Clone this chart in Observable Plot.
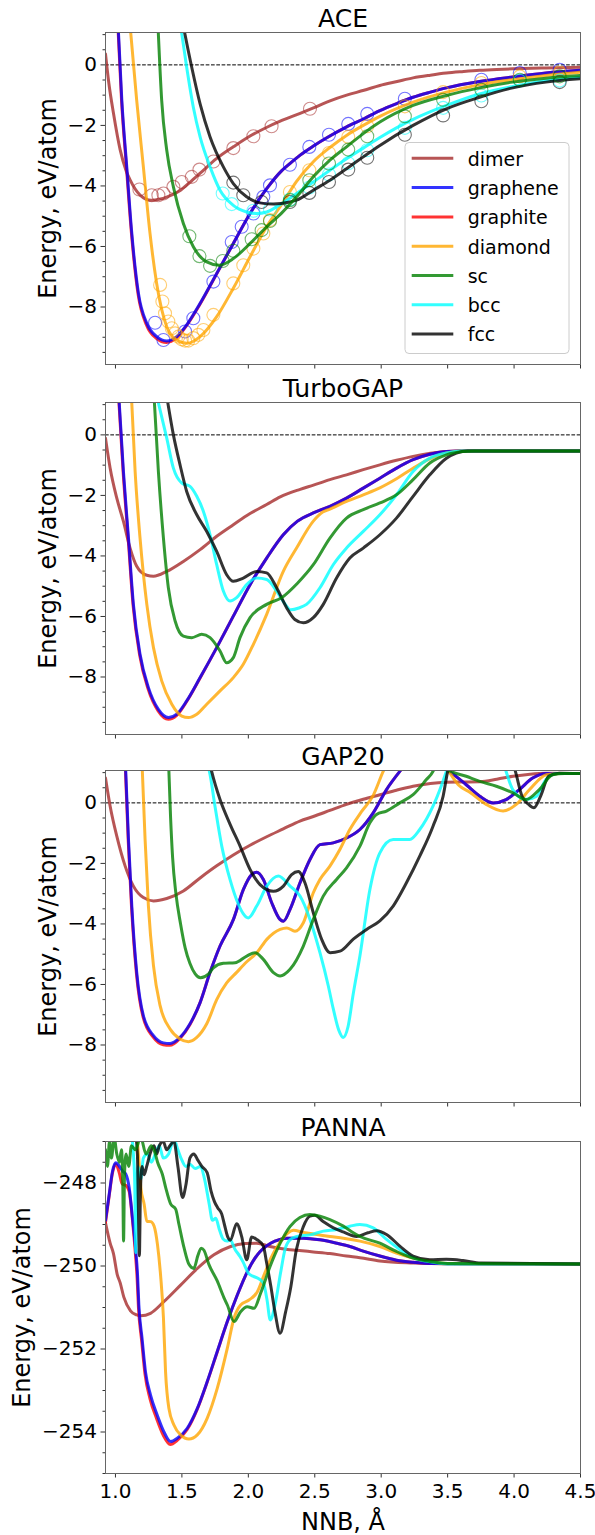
<!DOCTYPE html>
<html>
<head>
<meta charset="utf-8">
<script src="https://cdn.jsdelivr.net/npm/d3@7"></script>
<script src="https://cdn.jsdelivr.net/npm/@observablehq/plot@0.6"></script>
<style>
  body { margin: 0; background: #fff; }
  #fig { position: relative; width: 595px; height: 1535px; font-family: "DejaVu Sans", sans-serif; }
  #fig svg { position: absolute; left: 0; }
</style>
</head>
<body>
<div id="fig"></div>
<script>
// ---- structures, colours, ticks ----
const structures = ["dimer", "graphene", "graphite", "diamond", "sc", "bcc", "fcc"];
const structureColors = ["brown", "blue", "red", "orange", "green", "cyan", "black"];
const drawOrder = ["dimer", "graphite", "graphene", "diamond", "bcc", "fcc", "sc"];
const xTicks = [1.0, 1.5, 2.0, 2.5, 3.0, 3.5, 4.0, 4.5];
const energyTicks = [0, -2, -4, -6, -8];
const energyMinorTicks = [1, 0.5, -0.5, -1, -1.5, -2.5, -3, -3.5, -4.5, -5, -5.5, -6.5, -7, -7.5, -8.5, -9, -9.5];
const pannaTicks = [-248, -250, -252, -254];
const pannaMinorTicks = [-247, -247.5, -248.5, -249, -249.5, -250.5, -251, -251.5, -252.5, -253, -253.5, -254.5, -255];

// ---- ACE: [NNB (Å), energy (eV/atom)] ----
const aceDimer = [[0.925,0.36],[0.95,-0.6],[0.985,-1.6],[1.035,-2.8],[1.08,-3.5],[1.11,-3.8],[1.185,-4.3],[1.27,-4.47],[1.33,-4.44],[1.39,-4.36],[1.49,-4.14],[1.56,-3.88],[1.64,-3.57],[1.76,-3.1],[1.89,-2.7],[2.01,-2.36],[2.14,-2.06],[2.24,-1.86],[2.39,-1.6],[2.49,-1.42],[2.62,-1.18],[2.74,-1.0],[2.87,-0.84],[2.99,-0.68],[3.12,-0.55],[3.24,-0.43],[3.37,-0.34],[3.49,-0.27],[3.62,-0.22],[3.74,-0.18],[3.87,-0.15],[3.99,-0.13],[4.24,-0.1],[4.5,-0.08]];
const aceGraphene = [[1.02,1.3],[1.048,-1.18],[1.085,-3.37],[1.123,-5.57],[1.173,-7.55],[1.236,-8.54],[1.311,-8.98],[1.386,-9.12],[1.461,-8.98],[1.536,-8.59],[1.637,-7.88],[1.762,-6.89],[1.887,-5.9],[2.013,-4.91],[2.138,-4.09],[2.25,-3.5],[2.31,-3.27],[2.39,-2.98],[2.49,-2.68],[2.61,-2.36],[2.74,-2.05],[2.87,-1.78],[2.99,-1.51],[3.12,-1.27],[3.24,-1.07],[3.37,-0.9],[3.49,-0.76],[3.74,-0.55],[3.99,-0.4],[4.24,-0.27],[4.5,-0.18]];
const aceGraphite = [[1.018,1.3],[1.046,-1.2],[1.083,-3.4],[1.121,-5.6],[1.171,-7.6],[1.234,-8.6],[1.309,-9.04],[1.384,-9.17],[1.459,-9.02],[1.534,-8.62],[1.637,-7.9],[1.762,-6.9],[1.887,-5.9],[2.013,-4.91],[2.138,-4.09],[2.25,-3.5],[2.31,-3.27],[2.39,-2.98],[2.49,-2.68],[2.61,-2.36],[2.74,-2.05],[2.87,-1.78],[2.99,-1.51],[3.12,-1.27],[3.24,-1.07],[3.37,-0.9],[3.49,-0.76],[3.74,-0.55],[3.99,-0.4],[4.24,-0.27],[4.5,-0.18]];
const aceDiamond = [[1.11,1.3],[1.16,-1.18],[1.21,-3.37],[1.26,-5.57],[1.31,-7.22],[1.386,-8.65],[1.46,-9.09],[1.54,-9.2],[1.637,-8.98],[1.762,-8.32],[1.887,-7.38],[2.013,-6.34],[2.138,-5.35],[2.263,-4.53],[2.363,-3.85],[2.489,-3.2],[2.614,-2.73],[2.739,-2.33],[2.865,-2.0],[2.99,-1.7],[3.24,-1.23],[3.49,-0.9],[3.74,-0.66],[3.99,-0.49],[4.24,-0.35],[4.5,-0.24]];
const aceSc = [[1.32,1.3],[1.348,-1.18],[1.386,-2.82],[1.436,-4.03],[1.511,-5.24],[1.586,-6.01],[1.687,-6.51],[1.78,-6.62],[1.887,-6.4],[2.013,-5.9],[2.138,-5.35],[2.25,-4.9],[2.363,-4.36],[2.489,-3.7],[2.614,-3.15],[2.739,-2.71],[2.865,-2.27],[2.99,-1.89],[3.24,-1.34],[3.49,-1.01],[3.74,-0.76],[3.99,-0.57],[4.24,-0.44],[4.5,-0.35]];
const aceBcc = [[1.49,1.3],[1.536,-0.08],[1.586,-1.4],[1.637,-2.38],[1.712,-3.37],[1.787,-4.14],[1.887,-4.64],[1.987,-4.86],[2.063,-4.91],[2.138,-4.86],[2.238,-4.62],[2.363,-4.25],[2.489,-3.87],[2.614,-3.48],[2.739,-3.1],[2.865,-2.75],[2.99,-2.4],[3.115,-2.08],[3.24,-1.8],[3.49,-1.34],[3.74,-0.96],[3.99,-0.71],[4.24,-0.52],[4.5,-0.41]];
const aceFcc = [[1.51,1.3],[1.574,-0.08],[1.637,-1.29],[1.712,-2.38],[1.812,-3.37],[1.887,-3.92],[1.987,-4.36],[2.088,-4.56],[2.188,-4.6],[2.313,-4.53],[2.363,-4.47],[2.489,-4.14],[2.614,-3.81],[2.739,-3.43],[2.865,-3.04],[2.99,-2.66],[3.24,-2.0],[3.49,-1.45],[3.74,-1.07],[3.99,-0.76],[4.24,-0.57],[4.5,-0.46]];

// ---- DFT reference points drawn as open circles in the ACE panel ----
const dftDimer = [[1.18,-4.12],[1.273,-4.31],[1.323,-4.31],[1.361,-4.25],[1.436,-4.03],[1.499,-3.87],[1.574,-3.7],[1.632,-3.46],[1.737,-3.19],[1.887,-2.75],[2.038,-2.36],[2.175,-2.03],[2.464,-1.45]];
const dftGraphene = [[1.298,-8.52],[1.361,-9.09],[1.524,-8.81],[1.586,-8.37],[1.737,-7.16],[1.875,-5.85],[1.95,-5.35],[2.038,-4.91],[2.113,-4.36],[2.163,-3.98],[2.313,-3.3],[2.459,-2.71],[2.607,-2.31],[2.752,-1.95],[2.895,-1.62],[3.178,-1.12],[3.754,-0.49],[4.043,-0.27],[4.343,-0.16]];
const dftDiamond = [[1.336,-7.27],[1.353,-7.82],[1.373,-8.21],[1.398,-8.48],[1.424,-8.7],[1.449,-8.87],[1.474,-8.98],[1.499,-9.07],[1.524,-9.11],[1.549,-9.11],[1.586,-9.03],[1.624,-8.92],[1.662,-8.76],[1.737,-8.26],[1.887,-7.22],[1.962,-6.62],[2.038,-6.07],[2.113,-5.57],[2.163,-5.13],[2.313,-4.2],[2.459,-3.48],[2.607,-2.91],[2.752,-2.38],[2.895,-2.03],[3.178,-1.37],[3.466,-0.9],[3.754,-0.6],[4.043,-0.38],[4.343,-0.27]];
const dftSc = [[1.556,-5.66],[1.632,-6.32],[1.712,-6.64],[1.807,-6.48],[1.887,-6.14],[2.025,-5.76],[2.1,-5.46],[2.163,-5.16],[2.313,-4.47],[2.459,-3.81],[2.607,-3.26],[2.752,-2.8],[2.895,-2.36],[3.178,-1.7],[3.466,-1.15],[3.754,-0.82],[4.043,-0.49],[4.343,-0.38]];
const dftBcc = [[1.807,-4.25],[1.875,-4.6],[2.038,-4.82],[2.163,-4.78],[2.313,-4.45],[2.459,-4.05],[2.607,-3.62],[2.752,-3.25],[2.895,-2.82],[3.178,-2.08],[3.466,-1.42],[3.754,-1.01],[4.043,-0.52],[4.343,-0.52]];
const dftFcc = [[1.887,-3.89],[1.962,-4.31],[2.1,-4.53],[2.313,-4.53],[2.459,-4.23],[2.607,-3.87],[2.752,-3.46],[2.895,-3.07],[3.178,-2.31],[3.466,-1.67],[3.754,-1.2],[4.343,-0.57]];

// ---- TurboGAP ----
const tgDimer = [[0.925,-0.11],[0.96,-1.1],[1.01,-2.09],[1.06,-2.86],[1.11,-3.74],[1.16,-4.34],[1.236,-4.64],[1.286,-4.67],[1.386,-4.51],[1.511,-4.18],[1.637,-3.79],[1.762,-3.35],[1.887,-2.97],[2.013,-2.6],[2.138,-2.3],[2.24,-2.05],[2.39,-1.8],[2.49,-1.66],[2.614,-1.48],[2.739,-1.32],[2.865,-1.15],[2.99,-0.99],[3.115,-0.84],[3.24,-0.71],[3.37,-0.61],[3.49,-0.55],[3.6,-0.53],[4.5,-0.53]];
const tgGraphene = [[1.025,1.3],[1.06,-1.21],[1.098,-3.41],[1.135,-5.6],[1.185,-7.25],[1.248,-8.35],[1.323,-9.07],[1.4,-9.34],[1.461,-9.23],[1.536,-8.79],[1.637,-8.02],[1.762,-7.03],[1.887,-5.99],[2.013,-4.95],[2.138,-4.07],[2.263,-3.3],[2.37,-2.85],[2.489,-2.58],[2.614,-2.36],[2.739,-2.09],[2.865,-1.76],[2.99,-1.43],[3.115,-1.1],[3.24,-0.82],[3.366,-0.64],[3.491,-0.55],[3.6,-0.53],[4.5,-0.53]];
const tgGraphite = [[1.023,1.3],[1.058,-1.25],[1.096,-3.45],[1.133,-5.65],[1.183,-7.3],[1.246,-8.4],[1.321,-9.12],[1.398,-9.4],[1.461,-9.27],[1.536,-8.81],[1.637,-8.03],[1.762,-7.03],[1.887,-5.99],[2.013,-4.95],[2.138,-4.07],[2.263,-3.3],[2.37,-2.85],[2.489,-2.58],[2.614,-2.36],[2.739,-2.09],[2.865,-1.76],[2.99,-1.43],[3.115,-1.1],[3.24,-0.82],[3.366,-0.64],[3.491,-0.55],[3.6,-0.53],[4.5,-0.53]];
const tgDiamond = [[1.12,1.3],[1.148,-1.21],[1.185,-3.41],[1.236,-5.6],[1.286,-7.03],[1.348,-8.13],[1.424,-8.9],[1.499,-9.29],[1.549,-9.34],[1.612,-9.23],[1.687,-8.9],[1.787,-8.46],[1.887,-8.02],[1.962,-7.58],[2.038,-6.92],[2.138,-5.93],[2.263,-4.51],[2.363,-3.74],[2.489,-2.85],[2.56,-2.55],[2.614,-2.45],[2.739,-2.2],[2.865,-1.98],[2.99,-1.75],[3.115,-1.45],[3.24,-1.1],[3.366,-0.79],[3.491,-0.6],[3.6,-0.53],[4.5,-0.53]];
const tgSc = [[1.29,1.3],[1.323,-1.21],[1.361,-3.41],[1.398,-5.05],[1.449,-6.15],[1.511,-6.65],[1.574,-6.7],[1.649,-6.59],[1.712,-6.7],[1.787,-7.14],[1.837,-7.53],[1.887,-7.36],[1.937,-6.7],[2.013,-6.04],[2.138,-5.6],[2.25,-5.38],[2.37,-4.9],[2.489,-4.29],[2.614,-3.41],[2.739,-2.75],[2.865,-2.47],[2.99,-2.25],[3.115,-1.98],[3.24,-1.48],[3.366,-0.93],[3.491,-0.66],[3.616,-0.55],[3.7,-0.53],[4.5,-0.53]];
const tgBcc = [[1.31,1.3],[1.386,-0.11],[1.436,-1.1],[1.499,-1.59],[1.561,-1.7],[1.612,-2.03],[1.662,-2.53],[1.712,-3.3],[1.762,-4.29],[1.812,-5.16],[1.862,-5.49],[1.912,-5.38],[1.987,-4.95],[2.063,-4.73],[2.138,-4.78],[2.213,-5.16],[2.27,-5.55],[2.32,-5.78],[2.38,-5.72],[2.438,-5.6],[2.539,-5.05],[2.639,-4.29],[2.739,-3.74],[2.865,-3.19],[2.99,-2.64],[3.115,-1.98],[3.24,-1.21],[3.366,-0.77],[3.491,-0.6],[3.6,-0.53],[4.5,-0.53]];
const tgFcc = [[1.385,1.3],[1.436,0.0],[1.486,-0.99],[1.536,-1.87],[1.612,-2.64],[1.687,-3.19],[1.762,-3.85],[1.837,-4.62],[1.887,-4.84],[1.962,-4.73],[2.063,-4.51],[2.138,-4.56],[2.213,-5.05],[2.288,-5.71],[2.35,-6.1],[2.414,-6.21],[2.489,-6.04],[2.564,-5.6],[2.664,-4.73],[2.764,-4.07],[2.865,-3.74],[2.99,-3.3],[3.115,-2.75],[3.24,-2.03],[3.366,-1.32],[3.491,-0.77],[3.566,-0.6],[3.65,-0.53],[4.5,-0.53]];

// ---- GAP20 ----
const g20Dimer = [[0.925,0.82],[0.96,-0.11],[1.01,-1.1],[1.073,-2.09],[1.135,-2.75],[1.21,-3.13],[1.286,-3.24],[1.386,-3.16],[1.511,-2.91],[1.637,-2.48],[1.762,-2.08],[1.887,-1.72],[2.013,-1.4],[2.138,-1.12],[2.263,-0.86],[2.388,-0.6],[2.489,-0.45],[2.614,-0.25],[2.739,-0.05],[2.865,0.12],[2.99,0.27],[3.115,0.42],[3.24,0.55],[3.37,0.64],[3.491,0.68],[3.616,0.69],[3.742,0.7],[3.87,0.78],[3.992,0.88],[4.12,0.95],[4.243,0.98],[4.5,0.97]];
const g20Graphene = [[1.075,1.3],[1.098,-1.21],[1.123,-3.41],[1.16,-5.6],[1.21,-7.03],[1.286,-7.69],[1.361,-7.93],[1.411,-7.95],[1.486,-7.75],[1.561,-7.3],[1.637,-6.6],[1.712,-5.6],[1.787,-4.73],[1.888,-3.85],[1.963,-2.86],[2.025,-2.37],[2.063,-2.29],[2.113,-2.53],[2.176,-3.3],[2.238,-3.85],[2.264,-3.91],[2.314,-3.52],[2.389,-2.64],[2.464,-1.87],[2.539,-1.38],[2.639,-1.32],[2.739,-1.16],[2.84,-0.88],[2.94,-0.33],[3.04,0.44],[3.14,1.04],[3.25,1.6],[3.42,1.6],[3.5,1.1],[3.57,0.85],[3.64,0.6],[3.742,0.22],[3.842,0.0],[3.94,0.11],[4.04,0.44],[4.14,0.82],[4.243,0.97],[4.5,0.97]];
const g20Graphite = [[1.073,1.3],[1.096,-1.25],[1.121,-3.45],[1.158,-5.65],[1.208,-7.08],[1.284,-7.74],[1.359,-7.99],[1.409,-8.01],[1.484,-7.79],[1.561,-7.32],[1.637,-6.6],[1.712,-5.6],[1.787,-4.73],[1.888,-3.85],[1.963,-2.86],[2.025,-2.37],[2.063,-2.29],[2.113,-2.53],[2.176,-3.3],[2.238,-3.85],[2.264,-3.91],[2.314,-3.52],[2.389,-2.64],[2.464,-1.87],[2.539,-1.38],[2.639,-1.32],[2.739,-1.16],[2.84,-0.88],[2.94,-0.33],[3.04,0.44],[3.14,1.04],[3.25,1.6],[3.42,1.6],[3.5,1.1],[3.57,0.85],[3.64,0.6],[3.742,0.22],[3.842,0.0],[3.94,0.11],[4.04,0.44],[4.14,0.82],[4.243,0.97],[4.5,0.97]];
const g20Diamond = [[1.2,1.3],[1.223,-1.21],[1.248,-3.41],[1.286,-5.38],[1.336,-6.7],[1.411,-7.47],[1.486,-7.8],[1.549,-7.89],[1.612,-7.75],[1.687,-7.3],[1.762,-6.5],[1.837,-5.95],[1.912,-5.6],[1.988,-5.25],[2.064,-4.95],[2.139,-4.51],[2.239,-4.18],[2.289,-4.13],[2.351,-4.24],[2.414,-3.96],[2.489,-2.97],[2.539,-2.53],[2.614,-2.09],[2.689,-1.54],[2.764,-0.88],[2.85,-0.3],[2.94,0.25],[3.015,1.04],[3.08,1.6],[3.42,1.6],[3.5,1.1],[3.58,0.6],[3.667,0.35],[3.79,-0.05],[3.917,-0.27],[4.017,-0.05],[4.117,0.44],[4.243,0.93],[4.35,0.97],[4.5,0.97]];
const g20Sc = [[1.4,1.3],[1.415,-0.5],[1.43,-1.8],[1.455,-3.0],[1.49,-4.0],[1.525,-4.8],[1.56,-5.3],[1.6,-5.65],[1.64,-5.78],[1.699,-5.66],[1.737,-5.45],[1.812,-5.3],[1.9,-5.28],[1.988,-5.06],[2.05,-4.95],[2.113,-5.17],[2.189,-5.61],[2.239,-5.72],[2.314,-5.5],[2.414,-4.73],[2.489,-3.85],[2.564,-3.08],[2.664,-2.53],[2.739,-2.15],[2.84,-1.43],[2.915,-0.66],[2.965,-0.38],[3.04,-0.27],[3.14,0.0],[3.24,0.27],[3.34,0.77],[3.39,1.04],[3.43,1.5],[3.47,1.4],[3.5,1.1],[3.64,0.88],[3.742,0.71],[3.867,0.55],[3.992,0.33],[4.09,0.11],[4.19,0.44],[4.29,0.93],[4.38,0.97],[4.5,0.97]];
const g20Bcc = [[1.69,1.3],[1.707,1.04],[1.749,-0.11],[1.8,-1.43],[1.862,-2.53],[1.925,-3.35],[1.96,-3.65],[2.0,-3.8],[2.063,-3.41],[2.139,-2.75],[2.226,-2.42],[2.314,-2.75],[2.389,-3.08],[2.464,-3.85],[2.539,-4.95],[2.602,-6.05],[2.639,-6.8],[2.68,-7.5],[2.714,-7.75],[2.75,-7.4],[2.79,-6.3],[2.84,-5.05],[2.915,-2.86],[2.99,-1.65],[3.09,-1.21],[3.215,-1.21],[3.29,-0.88],[3.39,-0.11],[3.49,1.04],[3.53,1.6],[3.9,1.6],[3.94,1.04],[3.99,0.44],[4.09,0.11],[4.17,0.22],[4.24,0.77],[4.32,0.97],[4.5,0.97]];
const g20Fcc = [[1.71,1.3],[1.724,1.04],[1.787,0.11],[1.862,-0.7],[1.938,-1.43],[2.013,-2.2],[2.088,-2.7],[2.189,-2.92],[2.264,-2.75],[2.326,-2.37],[2.376,-2.27],[2.426,-2.64],[2.489,-3.63],[2.552,-4.51],[2.615,-4.95],[2.69,-4.9],[2.79,-4.5],[2.89,-4.18],[2.99,-3.9],[3.09,-3.41],[3.19,-2.64],[3.29,-1.76],[3.39,-0.77],[3.466,0.22],[3.5,1.04],[3.53,1.6],[3.97,1.6],[4.01,1.04],[4.06,0.22],[4.11,-0.05],[4.15,-0.16],[4.2,0.22],[4.26,0.88],[4.34,0.98],[4.5,0.97]];

// ---- PANNA ----
const pnDimer = [[0.925,-248.96],[0.96,-249.45],[0.985,-249.7],[1.013,-250.2],[1.035,-250.4],[1.063,-250.75],[1.113,-251.08],[1.16,-251.18],[1.19,-251.2],[1.264,-251.14],[1.364,-250.86],[1.49,-250.46],[1.616,-250.06],[1.741,-249.73],[1.867,-249.53],[1.98,-249.46],[2.063,-249.45],[2.163,-249.53],[2.294,-249.6],[2.364,-249.62],[2.489,-249.66],[2.614,-249.7],[2.739,-249.76],[2.84,-249.8],[2.99,-249.88],[3.24,-249.93],[3.5,-249.95],[4.5,-249.95]];
const pnGraphene = [[0.925,-248.9],[0.953,-248.27],[0.978,-247.71],[1.003,-247.51],[1.028,-247.59],[1.053,-247.71],[1.078,-247.79],[1.103,-248.11],[1.128,-248.84],[1.153,-249.64],[1.166,-250.2],[1.176,-250.94],[1.2,-251.74],[1.226,-252.55],[1.264,-253.11],[1.314,-253.59],[1.364,-253.99],[1.415,-254.23],[1.465,-254.15],[1.54,-253.91],[1.616,-253.43],[1.69,-252.79],[1.766,-252.06],[1.842,-251.34],[1.917,-250.7],[1.992,-250.14],[2.068,-249.73],[2.168,-249.45],[2.238,-249.36],[2.294,-249.33],[2.414,-249.33],[2.539,-249.37],[2.665,-249.45],[2.765,-249.53],[2.865,-249.64],[2.99,-249.76],[3.115,-249.86],[3.24,-249.91],[3.4,-249.94],[4.5,-249.95]];
const pnGraphite = [[0.925,-248.95],[0.953,-248.3],[0.978,-247.75],[1.003,-247.55],[1.028,-247.75],[1.05,-248.02],[1.08,-248.06],[1.103,-248.2],[1.128,-248.9],[1.15,-249.7],[1.163,-250.3],[1.173,-251.0],[1.197,-251.8],[1.222,-252.6],[1.26,-253.2],[1.31,-253.68],[1.36,-254.08],[1.413,-254.3],[1.465,-254.2],[1.54,-253.94],[1.616,-253.45],[1.69,-252.8],[1.766,-252.07],[1.842,-251.34],[1.917,-250.7],[1.992,-250.14],[2.068,-249.73],[2.168,-249.45],[2.238,-249.36],[2.294,-249.33],[2.414,-249.33],[2.539,-249.37],[2.665,-249.45],[2.765,-249.53],[2.865,-249.64],[2.99,-249.76],[3.115,-249.86],[3.24,-249.91],[3.4,-249.94],[4.5,-249.95]];
const pnDiamond = [[1.16,-246.8],[1.18,-247.6],[1.191,-248.11],[1.216,-248.51],[1.236,-248.92],[1.266,-248.93],[1.291,-249.04],[1.316,-249.48],[1.341,-250.28],[1.361,-251.24],[1.377,-252.55],[1.402,-253.43],[1.44,-253.83],[1.49,-254.07],[1.553,-254.17],[1.616,-254.07],[1.69,-253.67],[1.766,-252.95],[1.842,-251.98],[1.892,-251.26],[1.942,-250.94],[2.005,-250.82],[2.068,-250.62],[2.118,-250.22],[2.168,-249.82],[2.244,-249.4],[2.3,-249.2],[2.339,-249.14],[2.414,-249.19],[2.514,-249.24],[2.614,-249.29],[2.715,-249.33],[2.84,-249.4],[2.99,-249.53],[3.115,-249.69],[3.24,-249.81],[3.366,-249.88],[3.5,-249.94],[4.5,-249.95]];
const pnSc = [[0.925,-247.2],[0.94,-247.6],[0.955,-247.0],[0.97,-247.4],[0.99,-246.9],[1.01,-247.3],[1.03,-247.5],[1.045,-247.2],[1.055,-248.0],[1.061,-249.4],[1.068,-247.8],[1.08,-247.3],[1.1,-247.6],[1.12,-247.1],[1.15,-247.2],[1.19,-246.9],[1.23,-247.3],[1.27,-247.1],[1.3,-247.3],[1.317,-247.5],[1.353,-247.79],[1.378,-248.11],[1.416,-248.51],[1.453,-248.63],[1.478,-249.0],[1.516,-249.56],[1.553,-249.96],[1.59,-250.06],[1.62,-249.75],[1.645,-249.57],[1.666,-249.62],[1.703,-249.96],[1.766,-250.36],[1.816,-250.76],[1.842,-250.94],[1.892,-251.34],[1.942,-251.1],[1.992,-250.98],[2.043,-251.02],[2.093,-250.65],[2.165,-250.0],[2.24,-249.45],[2.313,-249.05],[2.388,-248.83],[2.464,-248.76],[2.539,-248.8],[2.614,-248.88],[2.715,-249.04],[2.79,-249.2],[2.84,-249.29],[2.99,-249.45],[3.115,-249.65],[3.24,-249.81],[3.366,-249.89],[3.5,-249.94],[4.5,-249.95]];
const pnBcc = [[1.12,-246.8],[1.135,-247.3],[1.145,-248.0],[1.153,-249.68],[1.16,-248.3],[1.17,-247.6],[1.19,-247.9],[1.21,-247.4],[1.24,-247.3],[1.27,-247.5],[1.3,-247.3],[1.33,-247.1],[1.36,-247.4],[1.4,-247.3],[1.44,-246.95],[1.47,-247.2],[1.5,-247.45],[1.53,-247.6],[1.56,-247.55],[1.6,-247.65],[1.64,-247.6],[1.67,-247.9],[1.705,-248.5],[1.73,-248.9],[1.755,-248.85],[1.78,-249.1],[1.81,-249.35],[1.84,-249.4],[1.862,-249.37],[1.9,-249.6],[1.937,-249.77],[1.96,-249.9],[2.0,-250.17],[2.038,-250.25],[2.075,-250.3],[2.113,-250.41],[2.14,-250.8],[2.165,-251.3],[2.2,-250.95],[2.244,-250.14],[2.276,-249.6],[2.313,-249.37],[2.364,-249.29],[2.464,-249.25],[2.564,-249.16],[2.665,-249.12],[2.765,-249.04],[2.84,-249.0],[2.94,-249.08],[3.04,-249.36],[3.14,-249.6],[3.24,-249.8],[3.37,-249.9],[3.5,-249.95],[4.5,-249.95]];
const pnFcc = [[1.15,-246.8],[1.165,-247.3],[1.172,-248.5],[1.18,-249.75],[1.188,-248.2],[1.2,-247.6],[1.215,-247.8],[1.235,-247.6],[1.26,-247.3],[1.29,-247.1],[1.31,-247.3],[1.33,-247.1],[1.36,-247.0],[1.385,-247.2],[1.41,-247.1],[1.44,-247.0],[1.47,-247.6],[1.505,-248.35],[1.53,-248.05],[1.56,-247.4],[1.59,-247.3],[1.62,-247.45],[1.65,-247.6],[1.69,-247.75],[1.72,-248.2],[1.745,-248.45],[1.77,-248.6],[1.8,-248.75],[1.82,-249.0],[1.845,-249.3],[1.865,-249.38],[1.912,-248.98],[1.95,-249.29],[1.988,-249.85],[2.025,-249.3],[2.063,-249.36],[2.113,-249.52],[2.138,-249.93],[2.17,-250.5],[2.2,-251.1],[2.239,-251.62],[2.281,-251.1],[2.32,-250.5],[2.36,-249.63],[2.414,-249.05],[2.464,-248.8],[2.5,-248.78],[2.563,-248.93],[2.64,-249.08],[2.715,-249.18],[2.815,-249.29],[2.9,-249.2],[2.966,-249.15],[3.04,-249.24],[3.14,-249.52],[3.24,-249.76],[3.366,-249.85],[3.49,-249.84],[3.616,-249.87],[3.75,-249.93],[4.5,-249.95]];

// ---- figure ----
const colorOf = Object.fromEntries(structures.map((s, i) => [s, structureColors[i]]));
const font = "'DejaVu Sans', sans-serif";

const panels = [
  {title: "ACE", top: 0, height: 370,
   curves: {dimer: aceDimer, graphene: aceGraphene, graphite: aceGraphite, diamond: aceDiamond, sc: aceSc, bcc: aceBcc, fcc: aceFcc},
   dft: {dimer: dftDimer, graphene: dftGraphene, diamond: dftDiamond, sc: dftSc, bcc: dftBcc, fcc: dftFcc},
   domain: [-9.9, 1.07], ticks: energyTicks, minor: energyMinorTicks, zero: true, labelDx: -57},
  {title: "TurboGAP", top: 370, height: 370,
   curves: {dimer: tgDimer, graphene: tgGraphene, graphite: tgGraphite, diamond: tgDiamond, sc: tgSc, bcc: tgBcc, fcc: tgFcc},
   domain: [-9.9, 1.07], ticks: energyTicks, minor: energyMinorTicks, zero: true, labelDx: -57},
  {title: "GAP20", top: 738, height: 370,
   curves: {dimer: g20Dimer, graphene: g20Graphene, graphite: g20Graphite, diamond: g20Diamond, sc: g20Sc, bcc: g20Bcc, fcc: g20Fcc},
   domain: [-9.9, 1.07], ticks: energyTicks, minor: energyMinorTicks, zero: true, labelDx: -57},
  {title: "PANNA", top: 1109, height: 426,
   curves: {dimer: pnDimer, graphene: pnGraphene, graphite: pnGraphite, diamond: pnDiamond, sc: pnSc, bcc: pnBcc, fcc: pnFcc},
   domain: [-255, -247], ticks: pannaTicks, minor: pannaMinorTicks, zero: false, labelDx: -83, xLabels: true}
];

const fig = document.getElementById("fig");

for (const p of panels) {
  const marks = [];
  if (p.zero) marks.push(Plot.ruleY([0], {stroke: "black", strokeWidth: 1, strokeDasharray: "3.7,1.6"}));
  for (const s of drawOrder) {
    marks.push(Plot.line(p.curves[s], {
      x: d => d[0], y: d => d[1], stroke: colorOf[s], strokeOpacity: 0.8,
      strokeWidth: 3, curve: "monotone-x", clip: true
    }));
    if (p.dft && p.dft[s]) {
      marks.push(Plot.dot(p.dft[s], {
        x: d => d[0], y: d => d[1], r: 6.5, fill: "none", stroke: colorOf[s],
        strokeOpacity: 0.55, strokeWidth: 1.1, clip: true
      }));
    }
  }
  marks.push(
    Plot.axisY({ticks: p.minor, tickSize: 2.5, tickFormat: () => "", stroke: "#333"}),
    Plot.axisY({ticks: p.ticks, tickSize: 4.5, tickPadding: 4, fontSize: 20, tickFormat: d3.format("d"), stroke: "#333", fill: "black"}),
    Plot.axisX({ticks: xTicks, tickSize: 4.5, tickPadding: 6, fontSize: 20, stroke: "#333", fill: "black",
                tickFormat: p.xLabels ? d3.format(".1f") : () => ""}),
    Plot.frame({stroke: "#666", strokeWidth: 1}),
    Plot.text([p.title], {frameAnchor: "top", lineAnchor: "middle", textAnchor: "middle", dy: -14, fontSize: 25, fill: "black"}),
    Plot.text(["Energy, eV/atom"], {frameAnchor: "left", lineAnchor: "middle", textAnchor: "middle", rotate: -90, dx: p.labelDx, fontSize: 24, fill: "black"})
  );
  if (p.xLabels) marks.push(Plot.text(["NNB, Å"], {frameAnchor: "bottom", lineAnchor: "middle", textAnchor: "middle", dy: 49, fontSize: 24, fill: "black"}));

  const svg = Plot.plot({
    width: 595, height: p.height,
    marginLeft: 105, marginRight: 15, marginTop: 32, marginBottom: p.height - 364,
    x: {domain: [0.925, 4.5]},
    y: {domain: p.domain},
    style: {fontFamily: font, background: "transparent", overflow: "visible"},
    marks
  });
  svg.style.top = p.top + "px";
  fig.appendChild(svg);
}

// legend inside the ACE panel
const legend = d3.create("svg").attr("width", 595).attr("height", 370)
  .style("top", "0px").style("pointer-events", "none");
legend.append("rect").attr("x", 405).attr("y", 142.5).attr("width", 164).attr("height", 211)
  .attr("rx", 4).attr("fill", "white").attr("fill-opacity", 0.8).attr("stroke", "#cccccc");
structures.forEach((s, i) => {
  const y = 158.3 + 29.3 * i;
  legend.append("line").attr("x1", 411.7).attr("x2", 453.3).attr("y1", y).attr("y2", y)
    .attr("stroke", colorOf[s]).attr("stroke-opacity", 0.8).attr("stroke-width", 3);
  legend.append("text").attr("x", 467.7).attr("y", y + 7.3).text(s)
    .attr("font-family", font).attr("font-size", 19).attr("fill", "black");
});
fig.appendChild(legend.node());
</script>
</body>
</html>
